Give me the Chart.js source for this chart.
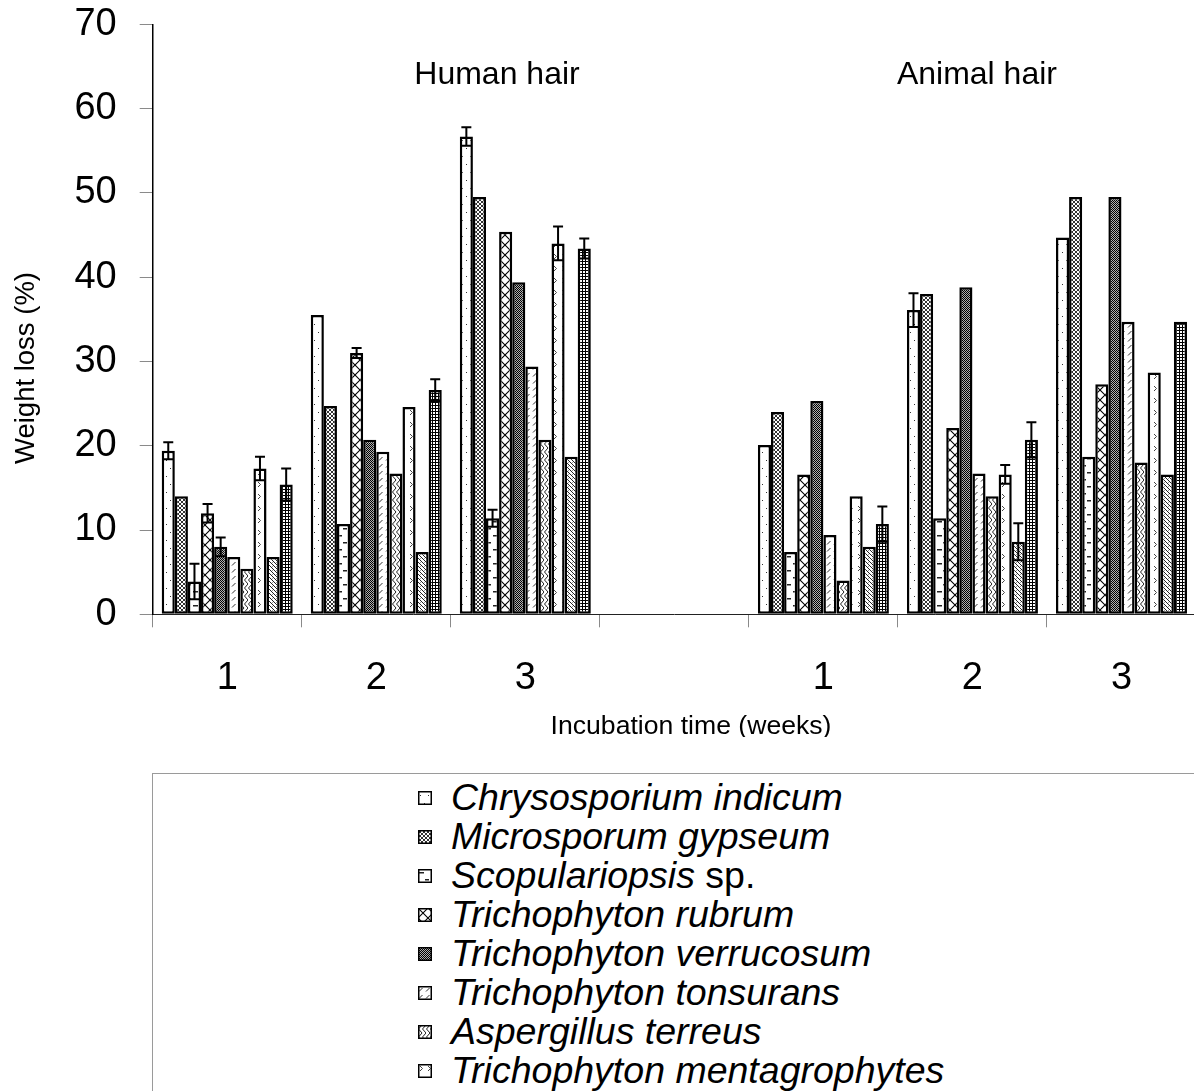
<!DOCTYPE html>
<html>
<head>
<meta charset="utf-8">
<script src="https://cdn.jsdelivr.net/npm/chart.js@4.4.1/dist/chart.umd.min.js"></script>
<style>
  html, body { margin:0; padding:0; background:#fff; overflow:hidden; width:1194px; height:1091px; }
  #wrap { position:absolute; left:0; top:0; width:1196px; height:760px; }
  #legend { position:absolute; left:152px; top:773px; width:1100px; height:420px; border:1px solid #9a9a9a; box-sizing:border-box; }
  .row { position:absolute; left:0; height:39px; white-space:nowrap; font-family:"Liberation Sans", Arial, sans-serif; font-size:37.5px; line-height:39px; color:#000; }
  .row canvas { position:absolute; }
  .row span.t { position:absolute; left:298px; top:0; }
</style>
</head>
<body>
<div id="wrap"><canvas id="c"></canvas></div>
<div id="legend"></div>
<script>
// ---------------- data ----------------
const categories = ['1', '2', '3', '', '1', '2', '3'];
const groupLabels = ['Human hair', 'Animal hair'];
const yTitle = 'Weight loss (%)';
const xTitle = 'Incubation time (weeks)';
const yTicks = [0, 10, 20, 30, 40, 50, 60, 70];

const seriesNames = [
  'Chrysosporium indicum',
  'Microsporum gypseum',
  'Scopulariopsis sp.',
  'Trichophyton rubrum',
  'Trichophyton verrucosum',
  'Trichophyton tonsurans',
  'Aspergillus terreus',
  'Trichophyton mentagrophytes',
  '',
  ''
];

const chrysosporium  = [19.4, 35.5, 56.7, null, 20.1, 36.1, 44.7];
const microsporum    = [14.0, 24.7, 49.5, null, 24.0, 38.0, 49.5];
const scopulariopsis = [3.9, 10.7, 11.4, null, 7.4, 11.4, 18.7];
const rubrum         = [12.0, 31.0, 45.4, null, 16.6, 22.1, 27.3];
const verrucosum     = [8.0, 20.7, 39.4, null, 25.3, 38.8, 49.5];
const tonsurans      = [6.8, 19.3, 29.4, null, 9.4, 16.7, 34.7];
const aspergillus    = [5.4, 16.7, 20.7, null, 4.0, 14.0, 18.0];
const mentagrophytes = [17.3, 24.6, 44.0, null, 14.0, 16.6, 28.7];
const series9        = [6.8, 7.4, 18.7, null, 8.0, 8.6, 16.6];
const series10       = [15.4, 26.6, 43.4, null, 10.7, 20.7, 34.7];

const chrysosporiumErr  = [1.0, 0, 1.1, null, 0, 2.0, 0];
const microsporumErr    = [0, 0, 0, null, 0, 0, 0];
const scopulariopsisErr = [2.1, 0, 1.0, null, 0, 0, 0];
const rubrumErr         = [1.1, 0.6, 0, null, 0, 0, 0];
const verrucosumErr     = [1.1, 0, 0, null, 0, 0, 0];
const tonsuransErr      = [0, 0, 0, null, 0, 0, 0];
const aspergillusErr    = [0, 0, 0, null, 0, 0, 0];
const mentagrophytesErr = [1.4, 0, 2.0, null, 0, 1.1, 0];
const series9Err        = [0, 0, 0, null, 0, 2.2, 0];
const series10Err       = [1.9, 1.3, 1.2, null, 2.1, 2.1, 0];

const seriesValues = [chrysosporium, microsporum, scopulariopsis, rubrum, verrucosum,
                      tonsurans, aspergillus, mentagrophytes, series9, series10];
const seriesErrors = [chrysosporiumErr, microsporumErr, scopulariopsisErr, rubrumErr, verrucosumErr,
                      tonsuransErr, aspergillusErr, mentagrophytesErr, series9Err, series10Err];

// ---------------- patterns ----------------
const patternKinds = ['dots', 'crosshatch', 'hdash', 'xlattice', 'dark', 'slash', 'zigzag', 'chev', 'backslash', 'checker'];

function makeTile(kind) {
  const c = document.createElement('canvas');
  const sizes = { dots:[8,16], crosshatch:[4,4], hdash:[12,14], xlattice:[10,10], dark:[2,2],
                  slash:[7,7], zigzag:[8,8], chev:[8,12], backslash:[4,4], checker:[3,3] };
  const [w, h] = sizes[kind];
  c.width = w; c.height = h;
  const g = c.getContext('2d');
  g.fillStyle = '#fff'; g.fillRect(0, 0, w, h);
  g.fillStyle = '#000'; g.strokeStyle = '#000'; g.lineWidth = 1;
  const px = (x, y, col) => { g.fillStyle = col || '#000'; g.fillRect(x, y, 1, 1); };
  switch (kind) {
    case 'dots':
      px(2, 4, '#333'); px(6, 12, '#333'); break;
    case 'crosshatch':
      for (let i = 0; i < 4; i++) { px(i, i, '#333'); px(3 - i, i, '#333'); }
      break;
    case 'hdash':
      g.fillStyle = '#222'; g.fillRect(1, 3, 5, 1.5); g.fillRect(7, 10, 4, 1.5); break;
    case 'xlattice':
      g.lineWidth = 1.1; g.beginPath();
      g.moveTo(0, 0); g.lineTo(10, 10); g.moveTo(10, 0); g.lineTo(0, 10); g.stroke(); break;
    case 'dark':
      g.fillStyle = '#b0b0b0'; g.fillRect(0, 0, 2, 2); px(0, 0, '#000'); px(1, 1, '#000'); break;
    case 'slash':
      g.lineWidth = 1; g.strokeStyle = '#333'; g.beginPath();
      g.moveTo(1, 5.5); g.lineTo(4.5, 2); g.stroke(); break;
    case 'zigzag':
      g.lineWidth = 1; g.strokeStyle = '#222'; g.beginPath();
      g.moveTo(4, 0); g.lineTo(0.5, 4); g.lineTo(4, 8);
      g.moveTo(8, 0); g.lineTo(4.5, 4); g.lineTo(8, 8); g.stroke(); break;
    case 'chev':
      g.lineWidth = 1; g.strokeStyle = '#444'; g.beginPath();
      g.moveTo(2, 2); g.lineTo(4.5, 4.5); g.lineTo(2, 7); g.stroke(); break;
    case 'backslash':
      for (let i = 0; i < 4; i++) px(i, i, '#222');
      px(0, 2, '#999'); break;
    case 'checker':
      g.fillStyle = '#000'; g.fillRect(0, 0, 3, 3); g.fillStyle = '#fff'; g.fillRect(1, 1, 2, 2); break;
  }
  return c;
}

const mainCanvas = document.getElementById('c');
const mctx = mainCanvas.getContext('2d');
const patterns = patternKinds.map(k => mctx.createPattern(makeTile(k), 'repeat'));

// ---------------- plugins ----------------
const errorBars = {
  id: 'errorBars',
  afterDatasetsDraw(chart) {
    const ctx = chart.ctx, ys = chart.scales.y;
    ctx.save();
    ctx.strokeStyle = '#000'; ctx.lineWidth = 2;
    chart.data.datasets.forEach((ds, i) => {
      const meta = chart.getDatasetMeta(i);
      meta.data.forEach((el, j) => {
        const v = ds.data[j], e = seriesErrors[i][j];
        if (v == null || !e) return;
        const x = el.x, y1 = ys.getPixelForValue(v + e), y2 = ys.getPixelForValue(v - e);
        const hw = 5;
        ctx.beginPath();
        ctx.moveTo(x, y1); ctx.lineTo(x, y2);
        ctx.moveTo(x - hw, y1); ctx.lineTo(x + hw, y1);
        ctx.moveTo(x - hw, y2); ctx.lineTo(x + hw, y2);
        ctx.stroke();
      });
    });
    ctx.restore();
  }
};

const textLayer = {
  id: 'textLayer',
  afterDraw(chart) {
    const ctx = chart.ctx, xs = chart.scales.x, ys = chart.scales.y;
    ctx.save();
    ctx.fillStyle = '#000';
    // group annotations
    ctx.font = '32px "Liberation Sans", Arial, sans-serif';
    ctx.textAlign = 'center'; ctx.textBaseline = 'alphabetic';
    ctx.fillText(groupLabels[0], xs.getPixelForValue(1.81), ys.getPixelForValue(62.9));
    ctx.fillText(groupLabels[1], xs.getPixelForValue(5.03), ys.getPixelForValue(62.9));
    // y title
    ctx.font = '27.5px "Liberation Sans", Arial, sans-serif';
    ctx.save();
    ctx.translate(26, 368);
    ctx.rotate(-Math.PI / 2);
    ctx.textBaseline = 'middle';
    ctx.fillText(yTitle, 0, 0);
    ctx.restore();
    // x title (clipped at bottom like the reference)
    ctx.save();
    ctx.beginPath(); ctx.rect(0, 690, chart.width, 47); ctx.clip();
    ctx.font = '26.6px "Liberation Sans", Arial, sans-serif';
    ctx.textBaseline = 'alphabetic';
    ctx.fillText(xTitle, 691, 734);
    ctx.restore();
    ctx.restore();
  }
};

// ---------------- chart ----------------
const CANVAS_H = 760;
new Chart(mainCanvas, {
  type: 'bar',
  data: {
    labels: categories,
    datasets: seriesValues.map((vals, i) => ({
      label: seriesNames[i],
      data: vals,
      backgroundColor: patterns[i],
      borderColor: '#000',
      borderWidth: 2.5,
      borderSkipped: false,
      categoryPercentage: 0.879,
      barPercentage: 1.0
    }))
  },
  options: {
    responsive: true,
    maintainAspectRatio: false,
    animation: false,
    events: [],
    layout: { padding: { top: 24.3, left: 0, right: 0, bottom: 0 } },
    plugins: { legend: { display: false }, tooltip: { enabled: false }, title: { display: false } },
    scales: {
      x: {
        offset: true,
        grid: { display: true, drawOnChartArea: false, drawTicks: true, tickLength: 13, color: '#8a8a8a', offset: true },
        border: { display: true, color: '#222', width: 1 },
        ticks: { color: '#000', font: { family: '"Liberation Sans", Arial, sans-serif', size: 38 }, padding: 28, maxRotation: 0, autoSkip: false },
        afterFit: s => { s.height = CANVAS_H - 614.3; s.paddingLeft = 0; s.paddingRight = 0; }
      },
      y: {
        min: 0, max: 70,
        afterBuildTicks: s => { s.ticks = yTicks.map(v => ({ value: v })); },
        grid: { display: true, drawOnChartArea: false, drawTicks: true, tickLength: 13, color: '#8a8a8a' },
        border: { display: true, color: '#000', width: 1.5 },
        ticks: { color: '#000', font: { family: '"Liberation Sans", Arial, sans-serif', size: 38 }, padding: 23 },
        afterFit: s => { s.width = 152.7; s.paddingTop = 0; s.paddingBottom = 0; }
      }
    }
  },
  plugins: [errorBars, textLayer]
});

// ---------------- legend (HTML) ----------------
const legend = document.getElementById('legend');
seriesNames.forEach((name, i) => {
  if (!name) return;
  const row = document.createElement('div');
  row.className = 'row';
  row.style.top = (4 + i * 39) + 'px';
  const sw = document.createElement('canvas');
  sw.width = 14; sw.height = 14;
  sw.style.left = '265px'; sw.style.top = '13px';
  const sg = sw.getContext('2d');
  sg.fillStyle = sg.createPattern(makeTile(patternKinds[i]), 'repeat');
  sg.fillRect(0, 0, 14, 14);
  sg.strokeStyle = '#000'; sg.lineWidth = 1.5; sg.strokeRect(0.75, 0.75, 12.5, 12.5);
  row.appendChild(sw);
  const t = document.createElement('span');
  t.className = 't';
  const m = name.match(/^(.*?)( sp\.)$/);
  if (m) { t.innerHTML = '<i>' + m[1] + '</i>' + m[2]; }
  else { t.innerHTML = '<i>' + name + '</i>'; }
  row.appendChild(t);
  legend.appendChild(row);
});
</script>
</body>
</html>
